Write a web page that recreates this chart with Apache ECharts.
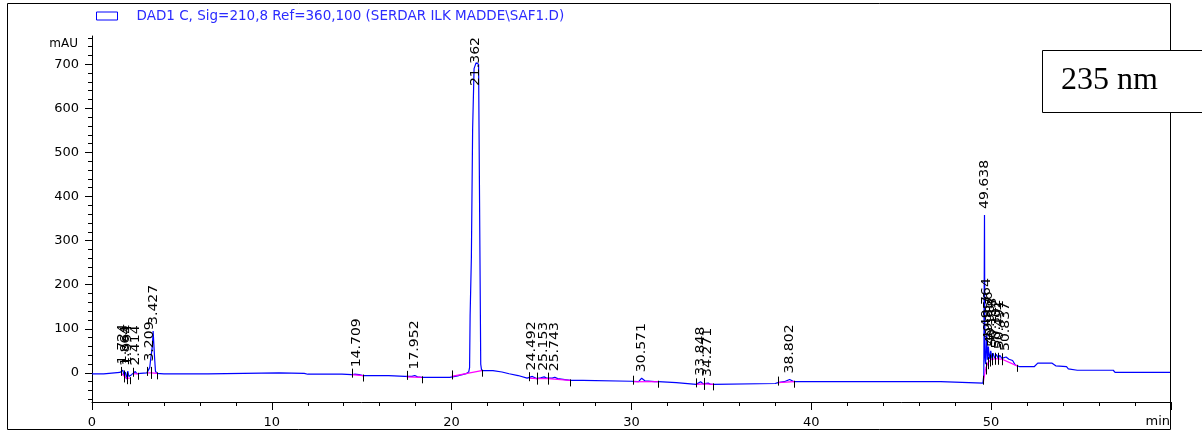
<!DOCTYPE html>
<html><head><meta charset="utf-8">
<script src="https://cdn.jsdelivr.net/npm/echarts@6/dist/echarts.min.js"></script>
<style>html,body{margin:0;padding:0;background:#fff}#c{width:1202px;height:432px}</style>
</head><body><div id="c"></div>
<script>
// ---- data ----
const signalTime = [0,0.65,0.66,1.55,1.62,1.72,1.78,1.82,1.86,1.92,1.99,2.05,2.10,2.2,2.3,2.41,2.5,2.7,3.05,3.15,3.21,3.26,3.31,3.36,3.40,3.44,3.48,3.53,3.6,4.0,6.45,6.5,10.4,10.5,11.8,12.0,13.9,14.0,14.44,14.6,14.71,14.85,15.07,16.5,16.6,17.4,17.5,17.8,17.95,18.1,18.33,19.9,20.0,20.4,20.6,20.8,20.95,21.0,21.03,21.1,21.17,21.25,21.36,21.5,21.56,21.62,21.67,22.3,22.4,22.8,22.9,23.2,23.3,23.7,23.8,24.2,24.3,24.49,24.6,24.73,24.95,25.15,25.3,25.37,25.6,25.74,25.9,26.1,26.2,26.6,27.3,27.4,30.0,30.1,30.4,30.57,30.75,31.3,31.5,32.5,32.6,33.6,33.7,33.85,34.0,34.1,34.27,34.4,34.55,38.0,38.15,38.5,38.8,39.05,47.2,47.3,49.55,49.6,49.638,49.66,49.7,49.764,49.8,49.856,49.9,49.987,50.05,50.118,50.2,50.302,50.4,50.491,50.6,50.837,51.0,51.2,51.35,51.6,52.4,52.6,53.4,53.6,54.2,54.3,54.8,56.8,56.9,60];
const signalValue = [-2,-2,1,1,0,6,-6,-10,2,-14,4,-8,-12,-4,-2,3,-2,-1,0,3,12,30,45,62,95,95,35,4,-1,-2,-2,0,0,-1,-1,-3,-3,-4,-4,-3,-1,-4,-6,-6,-7,-8,-9,-8,-6,-9,-10,-10,-8,-6,-4,-2,2,12,130,262,555,690,703,700,360,20,5,5,3,2,0,-2,-5,-6,-10,-12,-12,-8,-11,-13,-11,-9,-12,-13,-12,-10,-13,-14,-16,-17,-17,-19,-19,-21,-20,-12,-18,-20,-20,-22,-26,-26,-24,-20,-25,-26,-23,-26,-26,-24,-22,-20,-15,-20,-20,-23,-23,-5,358,40,20,90,30,60,32,50,32,45,33,42,33,40,33,36,31,28,18,14,14,22,22,16,14,9,6,6,1,1];

const peakRT     = [1.724,1.864,1.994,2.414,3.209,3.427,14.709,17.952,21.362,24.492,25.153,25.743,30.571,33.848,34.271,38.802,49.638,49.764,49.856,49.987,50.118,50.302,50.491,50.837];
const peakLabel  = ['1.724','1.864','1.994','2.414','3.209','3.427','14.709','17.952','21.362','24.492','25.153','25.743','30.571','33.848','34.271','38.802','49.638','49.764','49.856','49.987','50.118','50.302','50.491','50.837'];
const peakApex   = [6,2,4,3,12,95,-1,-6,703,-8,-9,-10,-12,-20,-23,-15,358,90,60,50,45,42,40,36];
const peakStartT = [1.62,1.80,1.93,2.30,3.08,3.30,14.44,17.5,20.0,24.3,24.73,25.37,30.1,33.6,34.05,38.15,49.58,49.70,49.82,49.93,50.06,50.2,50.4,50.62];
const peakStartY = [0,-8,-12,-2,0,0,-4,-9,-8,-12,-13,-13,-20,-26,-25,-22,-20,10,22,28,31,32,32,31];
const peakEndT   = [1.80,1.93,2.10,2.55,3.30,3.62,15.07,18.33,21.67,24.73,25.37,26.6,31.5,34.05,34.55,39.05,49.70,49.82,49.93,50.06,50.2,50.4,50.62,51.45];
const peakEndY   = [-8,-12,-12,-2,0,-1,-6,-10,5,-13,-13,-17,-20,-25,-26,-20,10,22,28,31,32,32,31,16];

const xTickLabels = [0,10,20,30,40,50];
const yTickLabels = [0,100,200,300,400,500,600,700];
const yMinorTicks = [-60,-40,-20,0,20,40,60,80,100,120,140,160,180,200,220,240,260,280,300,320,340,360,380,400,420,440,460,480,500,520,540,560,580,600,620,640,660,680,700,720,740,760];
const legendText = 'DAD1 C, Sig=210,8 Ref=360,100 (SERDAR ILK MADDE\\SAF1.D)';
const boxText = '235 nm';

// ---- chart ----
const chart = echarts.init(document.getElementById('c'), null, {renderer:'canvas'});
const FONT = '"DejaVu Sans", sans-serif';

function renderIntegration(params, api){
  const s = api.coord([api.value(0), api.value(1)]);
  const e = api.coord([api.value(2), api.value(3)]);
  return {type:'group', children:[
    {type:'line', shape:{x1:s[0],y1:s[1],x2:e[0],y2:e[1]}, style:{stroke:'#ff00ff', lineWidth:1.2}},
    {type:'line', shape:{x1:Math.round(s[0])+0.5,y1:s[1]-6,x2:Math.round(s[0])+0.5,y2:s[1]+3}, style:{stroke:'#000', lineWidth:1}},
    {type:'line', shape:{x1:Math.round(e[0])+0.5,y1:e[1]-1,x2:Math.round(e[0])+0.5,y2:e[1]+6}, style:{stroke:'#000', lineWidth:1}}
  ]};
}
function renderLabel(params, api){
  const p = api.coord([api.value(0), api.value(1)]);
  const txt = peakLabel[params.dataIndex];
  const fs = 12, sx = 1.17;
  let len = 0; for (const ch of txt) len += (ch === '.' ? 0.318 : 0.636);
  len *= fs * sx;
  const top = params.coordSys.y;
  const base = Math.max(p[1] - 6, top + len + 1);
  return {type:'text', x:p[0], y:base, rotation:Math.PI/2, scaleX:sx,
    style:{text:txt, fill:'#000', font:fs + 'px ' + FONT, align:'left', verticalAlign:'middle', textAlign:'left', textVerticalAlign:'middle'}};
}

const option = {
  animation:false,
  backgroundColor:'#fff',
  grid:{left:92, top:36, width:1078.8, height:366, containLabel:false, outerBoundsMode:'none'},
  legend:{
    data:[{name:legendText, icon:'rect'}],
    left:96, top:9, padding:0, itemWidth:21, itemHeight:8,
    itemStyle:{color:'#fff', borderColor:'#0000ff', borderWidth:1},
    textStyle:{color:'#2b2bff', fontFamily:FONT, fontSize:13.5, padding:[0,0,0,14]}
  },
  xAxis:{
    type:'value', min:0, max:60, interval:10,
    axisLine:{show:true, onZero:false, lineStyle:{color:'#000', width:1}},
    axisTick:{show:true, inside:false, length:8, lineStyle:{color:'#000'}},
    minorTick:{show:true, splitNumber:5, length:4, lineStyle:{color:'#000'}},
    splitLine:{show:false},
    axisLabel:{color:'#000', fontFamily:FONT, fontSize:13, margin:14,
      formatter:v => (xTickLabels.indexOf(v) >= 0 ? String(v) : '')}
  },
  yAxis:[{
    type:'value', min:-66, max:764,
    axisLine:{show:true, onZero:false, lineStyle:{color:'#000', width:1}},
    axisTick:{show:true, length:7, customValues:yTickLabels, lineStyle:{color:'#000'}},
    axisLabel:{show:true, customValues:yTickLabels, color:'#000', fontFamily:FONT, fontSize:13, margin:13},
    splitLine:{show:false}
  },{
    type:'value', min:-66, max:764, position:'left', offset:0,
    axisLine:{show:false},
    axisTick:{show:true, length:4, customValues:yMinorTicks, lineStyle:{color:'#000'}},
    axisLabel:{show:false},
    splitLine:{show:false}
  }],
  series:[
    {name:legendText, type:'line', xAxisIndex:0, yAxisIndex:0, showSymbol:false, symbol:'none',
     data:signalTime.map((t,i)=>[t, signalValue[i]]),
     lineStyle:{color:'#0000ff', width:1.2}, itemStyle:{color:'#0000ff'}, z:2},
    {type:'custom', xAxisIndex:0, yAxisIndex:0, renderItem:renderIntegration, clip:false,
     encode:{x:[0,2], y:[1,3]},
     data:peakStartT.map((t,i)=>[t, peakStartY[i], peakEndT[i], peakEndY[i]]), z:3, silent:true},
    {type:'custom', xAxisIndex:0, yAxisIndex:0, renderItem:renderLabel, clip:false,
     encode:{x:0, y:1},
     data:peakRT.map((t,i)=>[t, peakApex[i]]), z:4, silent:true}
  ],
  graphic:[
    {type:'rect', shape:{x:7.5, y:3.5, width:1163, height:426}, style:{fill:null, stroke:'#000', lineWidth:1}, z:10, silent:true},
    {type:'text', x:78, y:44, style:{text:'mAU', fill:'#000', font:'12px ' + FONT, align:'right', verticalAlign:'middle'}, z:10},
    {type:'text', x:1170, y:422, style:{text:'min', fill:'#000', font:'13px ' + FONT, align:'right', verticalAlign:'middle'}, z:10},
    {type:'rect', shape:{x:1042.5, y:50.5, width:170, height:62}, style:{fill:'#fff', stroke:'#000', lineWidth:1}, z:20, silent:true},
    {type:'text', x:1061, y:81, style:{text:boxText, fill:'#000', font:'32px "Liberation Serif", serif', align:'left', verticalAlign:'middle'}, z:21}
  ]
};
chart.setOption(option);
</script>
</body></html>
